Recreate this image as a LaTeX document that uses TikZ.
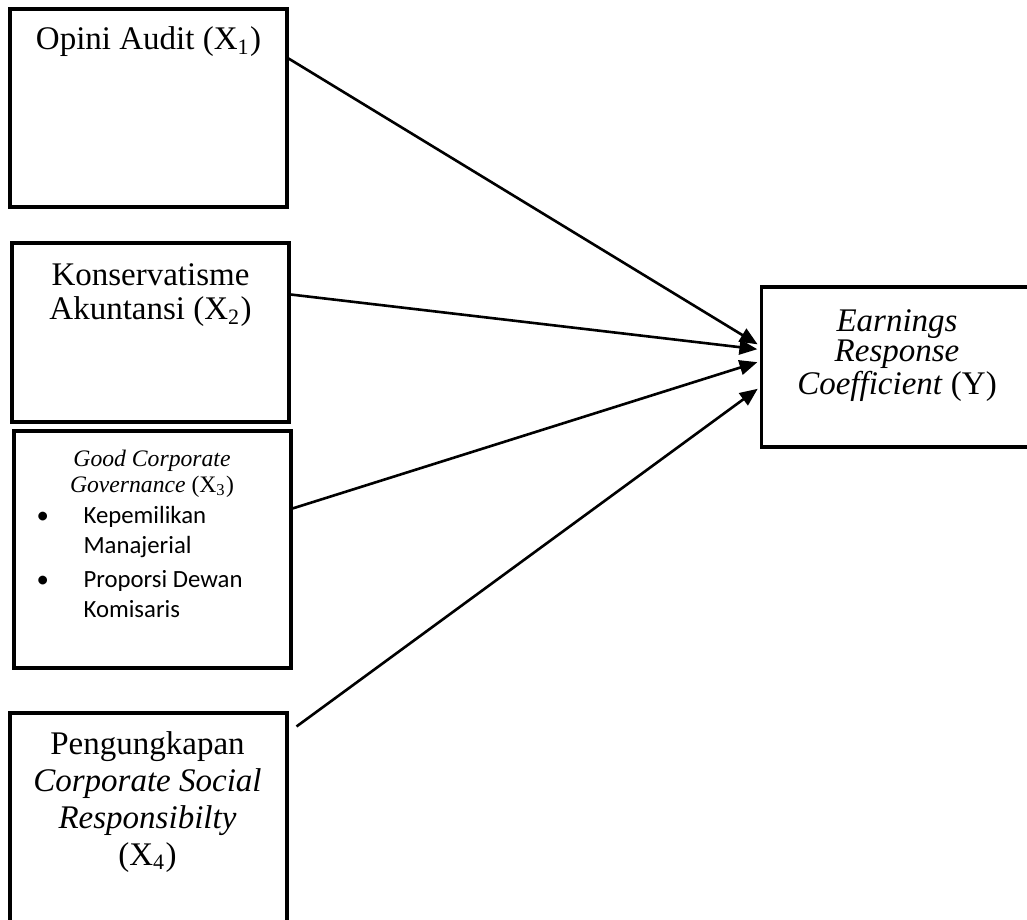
\documentclass[tikz,border=0pt]{standalone}
\usepackage{fontspec}
\setmainfont{Liberation Serif}
\newfontfamily\calibri{Carlito}
\usetikzlibrary{arrows.meta,fit,calc}
\begin{document}
\begin{tikzpicture}[x=0.3636pt,y=-0.3636pt,
    box/.style={draw,line width=1.1pt,inner sep=0pt},
    lbl/.style={anchor=base,align=center,inner sep=0pt,font=\fontsize{12}{#1}\selectfont},
    lbl/.default=13.8,
    arr/.style={-{Triangle[length=6.5pt,width=5.4pt]},line width=0.95pt,shorten >=0.8pt}]
    \useasboundingbox (0,0) rectangle (1027,920);
    \clip (0,0) rectangle (1027,920);
    % variabel bebas
    \node[box,fit={(10,9) (287,207)}] (opini) {};
    \node[box,fit={(12,243) (289,422)}] (konserv) {};
    \node[box,fit={(14,431) (291,668)}] (gcg) {};
    \node[box,fit={(10,713) (287,945)}] (csr) {};
    % variabel terikat
    \node[box,fit={(761,287) (1035,447)}] (ery) {};
    % teks (base = baris terakhir)
    \node[lbl] (opinitxt) at (148.5,50) {Opini Audit (X\textsubscript{1})};
    \node[lbl=12.7] (konservtxt) at (150.5,320) {Konservatisme\\Akuntansi (X\textsubscript{2})};
    \node[lbl,font=\fontsize{8.6}{9.5}\selectfont] (gcgtxt) at (152,493)
      {\textit{Good Corporate}\\\textit{Governance} (X\textsubscript{3})};
    \node[anchor=base west,inner sep=0pt,font=\calibri\fontsize{9}{11}\selectfont] (gcglist) at (36,523)
      {\begin{tabular}[t]{@{}p{17.1pt}@{}l@{}}
        \textbullet & Kepemilikan\\
                    & Manajerial\\[1.4pt]
        \textbullet & Proporsi Dewan\\
                    & Komisaris
      \end{tabular}};
    \node[lbl=13.45] (csrtxt) at (147.5,865)
      {Pengungkapan\\\textit{Corporate Social}\\\textit{Responsibilty}\\(X\textsubscript{4})};
    \node[lbl=11] (erytxt) at (897,395)
      {\textit{Earnings}\\\textit{Response}\\\textit{Coefficient} (Y)};
    % panah
    \draw[arr] ($(opini.north east)+(0,51)$) -- ($(ery.north west)+(0,60)$);
    \draw[arr] ($(konserv.north east)+(0,53)$) -- ($(ery.north west)+(0,64)$);
    \draw[arr] ($(gcg.north east)+(0,79)$) -- ($(ery.north west)+(0,76)$);
    \draw[arr] ($(csr.north east)+(8,15)$) -- ($(ery.north west)+(0,102)$);
\end{tikzpicture}
\end{document}
